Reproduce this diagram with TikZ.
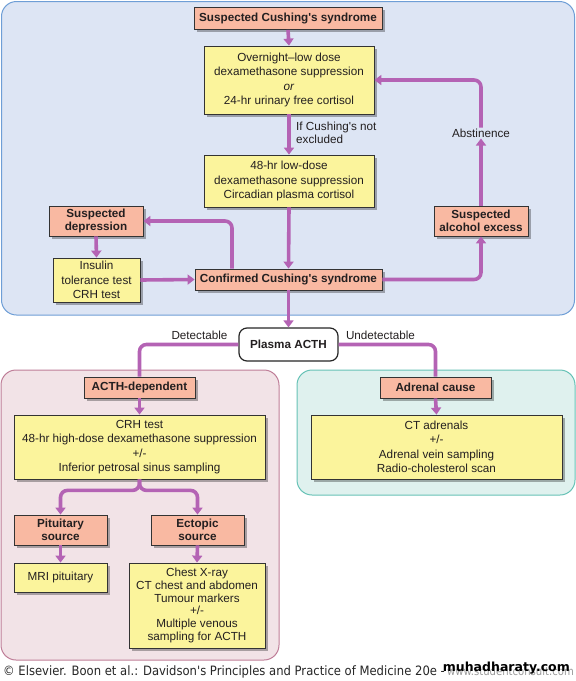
\documentclass[tikz,border=0pt]{standalone}
\usepackage{fontspec}
\setmainfont{Liberation Sans}[Ligatures=TeXOff]
\newfontfamily\footfont{DejaVu Sans Condensed}[Ligatures=TeXOff]
\newfontfamily\wmfont{DejaVu Sans}
\usetikzlibrary{arrows.meta,shadows}
\definecolor{panelblue}{HTML}{DDE5F4}
\definecolor{borderblue}{HTML}{6E9ED6}
\definecolor{panelpink}{HTML}{F2E3E7}
\definecolor{borderpink}{HTML}{BF7E98}
\definecolor{panelteal}{HTML}{DFF1EE}
\definecolor{borderteal}{HTML}{66C2B6}
\definecolor{salmon}{HTML}{F9B9A2}
\definecolor{pyellow}{HTML}{FBF49C}
\definecolor{conncol}{HTML}{B463B4}
\definecolor{txt}{HTML}{231F20}
\tikzset{
  box/.style={draw=black!80, line width=0.8pt, inner sep=0pt, align=center, text=txt,
    font=\fontsize{11.7}{14.5}\selectfont,
    drop shadow={shadow xshift=2.5pt, shadow yshift=-2.5pt, fill=black, opacity=0.3}},
  redbox/.style={box, fill=salmon, font=\bfseries\fontsize{11.7}{13.5}\selectfont},
  ybox/.style={box, fill=pyellow},
  conn/.style={draw=conncol, line width=3.6pt, rounded corners=7pt},
  arr/.style={conn, -{Triangle[length=7pt,width=10pt]}},
  lbl/.style={inner sep=1pt, text=txt, font=\fontsize{11.7}{12.5}\selectfont},
  panel/.style={line width=1pt, rounded corners=15pt}
}
\begin{document}
\begin{tikzpicture}[x=1pt,y=-1pt]
\useasboundingbox (0,0) rectangle (576,681);
% panels
\draw[panel, draw=borderblue, fill=panelblue] (1.5,1.5) rectangle (574.5,315);
\draw[panel, draw=borderpink, fill=panelpink] (1,370) rectangle (279,660);
\draw[panel, draw=borderteal, fill=panelteal] (297,370) rectangle (575,495);
% nodes
\node[redbox, minimum width=188pt, minimum height=22pt] (sus) at (288,18.5) {Suspected Cushing's syndrome};
\node[ybox, minimum width=170pt, minimum height=68pt] (b1) at (289,80) {Overnight–low dose\\dexamethasone suppression\\\textit{or}\\24-hr urinary free cortisol};
\node[ybox, minimum width=170pt, minimum height=52pt] (b2) at (289,181) {48-hr low-dose\\dexamethasone suppression\\Circadian plasma cortisol};
\node[redbox, minimum width=187pt, minimum height=21pt] (conf) at (288.5,279.5) {Confirmed Cushing's syndrome};
\node[redbox, minimum width=94pt, minimum height=30pt] (dep) at (96,221) {Suspected\\depression};
\node[redbox, minimum width=94pt, minimum height=30pt] (alc) at (481,221) {Suspected\\alcohol excess};
\node[ybox, minimum width=87pt, minimum height=44pt] (ins) at (96.5,280) {Insulin\\tolerance test\\CRH test};
\node[lbl, anchor=west, align=left] (excl) at (295,133) {If Cushing's not\\excluded};
\node[lbl] (abst) at (481,133) {Abstinence};
\node[draw=black!85, line width=1.2pt, fill=white, rounded corners=8pt, minimum width=99pt, minimum height=33pt, inner sep=0pt, text=txt, font=\bfseries\fontsize{11.7}{13.5}\selectfont] (pl) at (288.5,344.5) {Plasma ACTH};
\node[lbl] (det) at (199.5,335) {Detectable};
\node[lbl] (undet) at (380.5,335) {Undetectable};
\node[redbox, minimum width=111pt, minimum height=21pt] (acthdep) at (139.5,387.5) {ACTH-dependent};
\node[redbox, minimum width=111pt, minimum height=21pt] (adr) at (435.5,387.5) {Adrenal cause};
\node[ybox, minimum width=251pt, minimum height=64pt] (crh) at (139.5,447) {CRH test\\48-hr high-dose dexamethasone suppression\\+/-\\Inferior petrosal sinus sampling};
\node[ybox, minimum width=251pt, minimum height=64pt] (ct) at (436.5,447) {CT adrenals\\+/-\\Adrenal vein sampling\\Radio-cholesterol scan};
\node[redbox, minimum width=93pt, minimum height=30pt] (pit) at (60.5,530) {Pituitary\\source};
\node[redbox, minimum width=93pt, minimum height=30pt] (ect) at (197.5,530) {Ectopic\\source};
\node[ybox, minimum width=93pt, minimum height=29pt] (mri) at (60.5,577.5) {MRI pituitary};
\node[ybox, minimum width=136pt, minimum height=85pt, font=\fontsize{11.7}{12.8}\selectfont] (ectb) at (197,605.5) {Chest X-ray\\CT chest and abdomen\\Tumour markers\\+/-\\Multiple venous\\sampling for ACTH};
% connectors
\draw[arr] (sus.south) -- (b1.north);
\draw[arr] (b1.south) -- (b2.north);
\draw[arr] (b2.south) -- (conf.north);
\draw[arr] ([xshift=-56.5pt]conf.north) |- (dep.east);
\draw[arr] (dep.south) -- (ins.north);
\draw[arr] (ins.east) -- (conf.west);
\draw[arr] (conf.east) -| (alc.south);
\draw[arr] (alc.north) -- (abst.south);
\draw[arr] (abst.north) |- (b1.east);
\draw[arr] (conf.south) -- (pl.north);
\draw[conn] (pl.west) -| (acthdep.north);
\draw[conn] (pl.east) -| (adr.north);
\draw[arr] (acthdep.south) -- (crh.north);
\draw[arr] (adr.south) -- (ct.north);
\draw[arr] (crh.south) -- ++(0,11) -| (pit.north);
\draw[arr] (crh.south) -- ++(0,11) -| (ect.north);
\draw[arr] (pit.south) -- (mri.north);
\draw[arr] (ect.south) -- (ectb.north);
% footer
\node[anchor=base west, inner sep=0pt, text=black!85, font=\footfont\fontsize{12.9}{14}\selectfont] (foot) at (3,675) {© Elsevier. Boon et al.: Davidson's Principles and Practice of Medicine 20e -};
\node[anchor=base west, inner sep=0pt, text=black!40, font=\footfont\fontsize{11.2}{13}\selectfont] (www) at (447,675) {www.studentconsult.com};
\node[anchor=base east, inner sep=0pt, text=black, font=\wmfont\bfseries\fontsize{12.5}{14}\selectfont] (wm) at (570,671) {muhadharaty.com};
\end{tikzpicture}
\end{document}
